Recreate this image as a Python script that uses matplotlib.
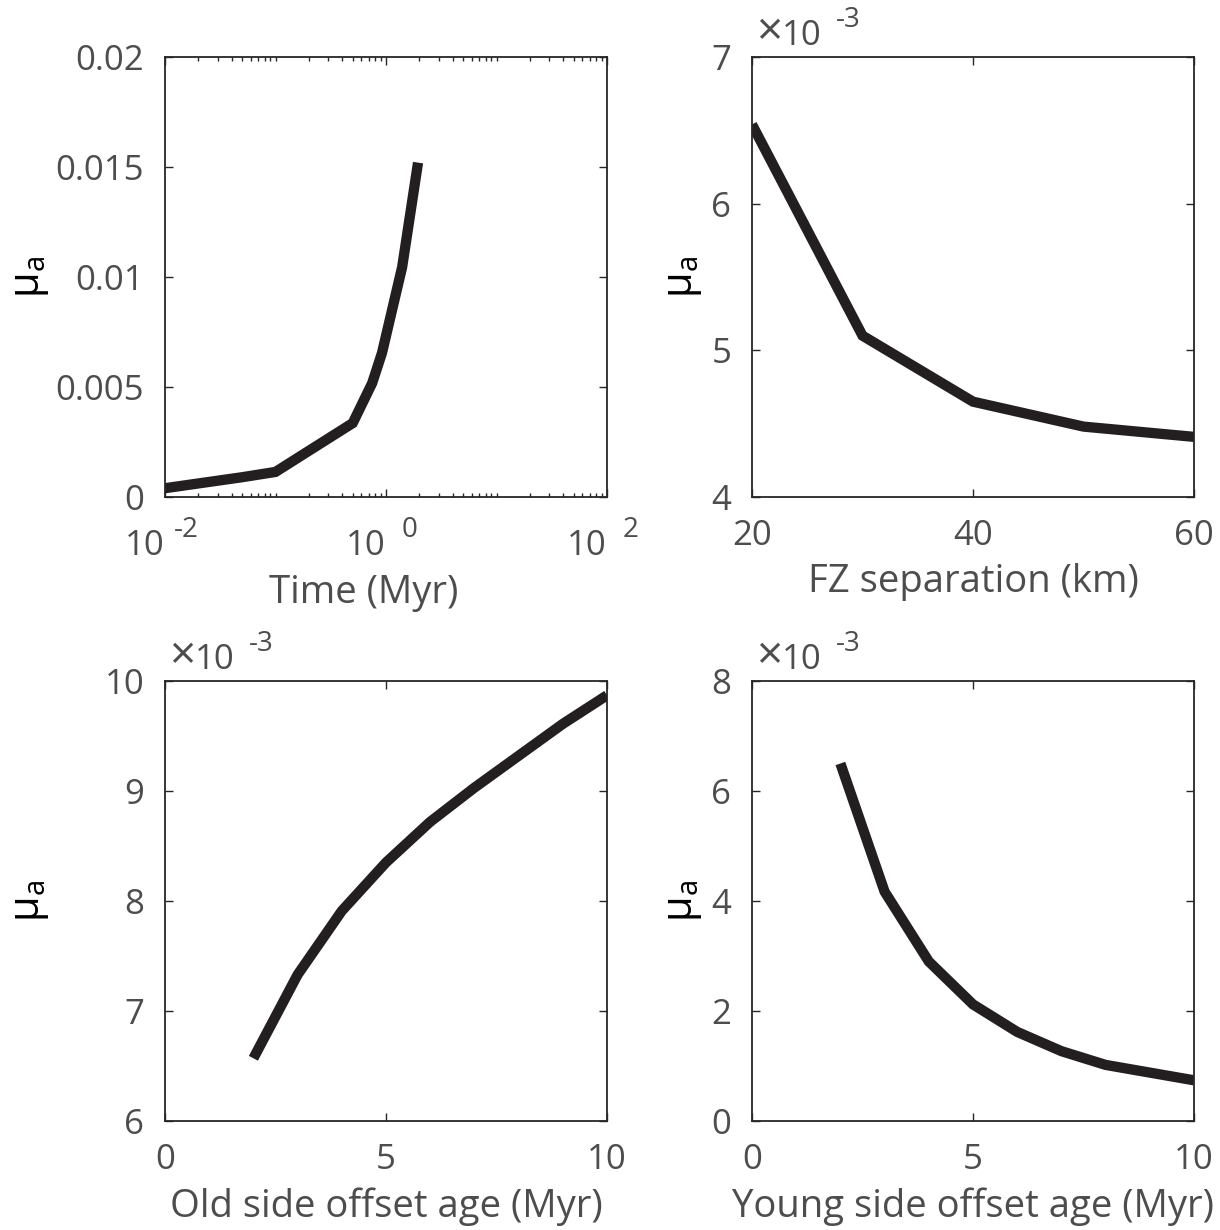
import numpy as np
import matplotlib
matplotlib.use("Agg")
import matplotlib.pyplot as plt
from matplotlib.ticker import FixedLocator, FuncFormatter, NullFormatter

# ------------------------- data -------------------------
time_myr = [0.01, 0.05, 0.1, 0.5, 0.75, 0.92, 1.4, 1.95]
mu_time = [0.00040, 0.00090, 0.00114, 0.00336, 0.00518, 0.00655, 0.01045, 0.0152]

fz_sep_km = [20, 30, 40, 50, 60]
mu_fz = [6.54e-3, 5.10e-3, 4.65e-3, 4.48e-3, 4.41e-3]

old_age = [2, 3, 4, 5, 6, 7, 8, 9, 10]
mu_old = [6.57e-3, 7.33e-3, 7.91e-3, 8.35e-3, 8.72e-3, 9.03e-3, 9.32e-3, 9.61e-3, 9.87e-3]

young_age = [2, 3, 4, 5, 6, 7, 8, 9, 10]
mu_young = [6.50e-3, 4.17e-3, 2.90e-3, 2.12e-3, 1.62e-3, 1.27e-3, 1.02e-3, 0.88e-3, 0.74e-3]

log_ticks = [1e-2, 1e0, 1e2]
log_exps = ["-2", "0", "2"]

# ------------------------- style -------------------------
plt.rcParams["font.family"] = ["Open Sans", "DejaVu Sans"]
plt.rcParams["mathtext.fontset"] = "custom"
plt.rcParams["mathtext.rm"] = "Open Sans"
plt.rcParams["mathtext.sf"] = "Open Sans"
plt.rcParams["mathtext.it"] = "Open Sans:italic"

TXT = "#4d4d4d"
AX = "#262626"
LINE = "#231f20"
FS = 25        # tick labels
FS_LAB = 27.5  # axis labels
FS_SUP = 20    # exponents
LW = 7.4
PX = 72 / 100  # pixel -> points

W, H = 1220, 1230
fig = plt.figure(figsize=(W / 100, H / 100), dpi=100)


def px_axes(x0, y0, x1, y1):
    return fig.add_axes([x0 / W, 1 - y1 / H, (x1 - x0) / W, (y1 - y0) / H])


ax_tl = px_axes(165, 57, 607, 497)
ax_tr = px_axes(752, 57, 1194, 497)
ax_bl = px_axes(165, 681, 607, 1121)
ax_br = px_axes(752, 681, 1194, 1121)


def style(ax):
    for s in ax.spines.values():
        s.set_color(AX)
        s.set_linewidth(1.3)
    ax.tick_params(which="both", direction="in", top=True, right=True,
                   colors=AX, labelcolor=TXT, labelsize=FS, width=1.0)
    ax.tick_params(which="major", length=5.5)
    ax.tick_params(axis="x", which="major", pad=16)
    ax.tick_params(axis="y", which="major", pad=15)
    ax.tick_params(which="minor", length=3)


def mu_label(ax, xpos):
    ax.set_ylabel(r"$\mathregular{\mu_a}$", fontsize=30, color="black")
    ax.yaxis.set_label_coords(xpos, 0.5)
    ax.yaxis.label.set_va("center")


def x_label(ax, text, xpos=0.5, ypos=-0.195):
    ax.set_xlabel(text, fontsize=FS_LAB, color=TXT)
    ax.xaxis.set_label_coords(xpos, ypos)
    ax.xaxis.label.set_va("center")


def multiplier(ax):
    # MATLAB style exponent label: "x10" with a raised "-3"
    ax.annotate("\u00d7", xy=(0, 1), xycoords="axes fraction",
                xytext=(4 * PX, 12 * PX), textcoords="offset points",
                fontsize=33, color=TXT, ha="left", va="baseline")
    ax.annotate("10", xy=(0, 1), xycoords="axes fraction",
                xytext=(30 * PX, 12 * PX), textcoords="offset points",
                fontsize=FS, color=TXT, ha="left", va="baseline")
    ax.annotate("-3", xy=(0, 1), xycoords="axes fraction",
                xytext=(84 * PX, 30 * PX), textcoords="offset points",
                fontsize=FS_SUP, color=TXT, ha="left", va="baseline")


def scaled(v, _pos):
    return f"{v * 1e3:g}"


# --- top left: time ---
ax = ax_tl
ax.plot(time_myr, mu_time, color=LINE, lw=LW, solid_capstyle="butt", solid_joinstyle="miter")
ax.set_xscale("log")
ax.set_xlim(1e-2, 1e2)
ax.set_ylim(0, 0.02)
ax.xaxis.set_major_locator(FixedLocator(log_ticks))
ax.xaxis.set_major_formatter(NullFormatter())
minor = [m * 10.0 ** e for e in range(-2, 2) for m in range(1, 10) if m * 10.0 ** e not in (1e-2, 1.0)]
ax.xaxis.set_minor_locator(FixedLocator(minor))
ax.xaxis.set_minor_formatter(NullFormatter())
ax.yaxis.set_major_locator(FixedLocator([0, 0.005, 0.01, 0.015, 0.02]))
ax.yaxis.set_major_formatter(FuncFormatter(lambda v, p: f"{v:g}"))
style(ax)
for t, e in zip(log_ticks, log_exps):
    ax.annotate("10", xy=(t, 0), xycoords=("data", "axes fraction"),
                xytext=(0, -58 * PX), textcoords="offset points",
                fontsize=FS, color=TXT, ha="right", va="baseline", annotation_clip=False)
    dx = 9 if e.startswith("-") else 16
    ax.annotate(e, xy=(t, 0), xycoords=("data", "axes fraction"),
                xytext=(dx * PX, -40 * PX), textcoords="offset points",
                fontsize=FS_SUP, color=TXT, ha="left", va="baseline", annotation_clip=False)
x_label(ax, "Time (Myr)", xpos=0.45, ypos=-0.218)
mu_label(ax, -0.305)

# --- top right: FZ separation ---
ax = ax_tr
ax.plot(fz_sep_km, mu_fz, color=LINE, lw=LW, solid_capstyle="butt", solid_joinstyle="miter")
ax.set_xlim(20, 60)
ax.set_ylim(4e-3, 7e-3)
ax.xaxis.set_major_locator(FixedLocator([20, 40, 60]))
ax.yaxis.set_major_locator(FixedLocator([4e-3, 5e-3, 6e-3, 7e-3]))
ax.yaxis.set_major_formatter(FuncFormatter(scaled))
style(ax)
x_label(ax, "FZ separation (km)", ypos=-0.193)
mu_label(ax, -0.156)
multiplier(ax)

# --- bottom left: old side offset age ---
ax = ax_bl
ax.plot(old_age, mu_old, color=LINE, lw=LW, solid_capstyle="butt", solid_joinstyle="miter")
ax.set_xlim(0, 10)
ax.set_ylim(6e-3, 10e-3)
ax.xaxis.set_major_locator(FixedLocator([0, 5, 10]))
ax.yaxis.set_major_locator(FixedLocator([6e-3, 7e-3, 8e-3, 9e-3, 10e-3]))
ax.yaxis.set_major_formatter(FuncFormatter(scaled))
style(ax)
x_label(ax, "Old side offset age (Myr)")
mu_label(ax, -0.305)
multiplier(ax)

# --- bottom right: young side offset age ---
ax = ax_br
ax.plot(young_age, mu_young, color=LINE, lw=LW, solid_capstyle="butt", solid_joinstyle="miter")
ax.set_xlim(0, 10)
ax.set_ylim(0, 8e-3)
ax.xaxis.set_major_locator(FixedLocator([0, 5, 10]))
ax.yaxis.set_major_locator(FixedLocator([0, 2e-3, 4e-3, 6e-3, 8e-3]))
ax.yaxis.set_major_formatter(FuncFormatter(scaled))
style(ax)
x_label(ax, "Young side offset age (Myr)")
mu_label(ax, -0.156)
multiplier(ax)

fig.savefig("out.png", dpi=100)
